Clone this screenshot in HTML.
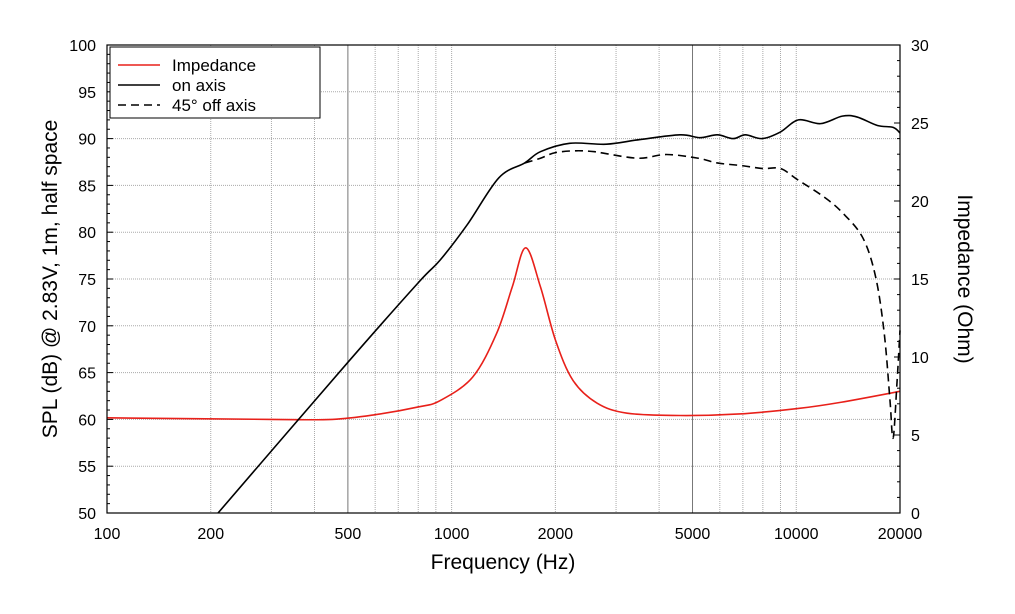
<!DOCTYPE html>
<html><head><meta charset="utf-8"><style>
body{margin:0;background:#fff}
svg text{font-family:"Liberation Sans",sans-serif;fill:#000}
</style></head><body>
<svg id="c" width="1015" height="609" viewBox="0 0 1015 609" xmlns="http://www.w3.org/2000/svg">
<g id="grid"></g>
<g id="series"></g>
<rect x="107" y="45" width="793" height="468" fill="none" stroke="#000" stroke-width="1.2"/>
<g id="ticks"></g>
<text x="503" y="569" font-size="21" text-anchor="middle">Frequency (Hz)</text>
<text transform="translate(57,279) rotate(-90)" font-size="21" text-anchor="middle">SPL (dB) @ 2.83V, 1m, half space</text>
<text transform="translate(958,279) rotate(90)" font-size="21" text-anchor="middle">Impedance (Ohm)</text>
<g>
<rect x="110" y="47" width="210" height="71" fill="#fff" stroke="#000" stroke-width="1"/>
<g><line x1="118" y1="65" x2="160" y2="65" stroke="#e8201a" stroke-width="1.6"/><text x="172" y="71" font-size="17">Impedance</text></g>
<g><line x1="118" y1="85" x2="160" y2="85" stroke="#000" stroke-width="1.6"/><text x="172" y="91" font-size="17">on axis</text></g>
<g><line x1="118" y1="105" x2="160" y2="105" stroke="#000" stroke-width="1.6" stroke-dasharray="8,5"/><text x="172" y="111" font-size="17">45° off axis</text></g>
</g>
</svg>
<script>
const onFreq=[210,500,800,925,1110,1370,1630,1810,2200,2815,3520,4600,5260,5900,6560,7120,7960,8990,10140,11760,13600,15030,17200,19100,20000];
const onDb=[50,66.1,74.6,77.0,80.8,85.8,87.4,88.6,89.5,89.4,89.9,90.4,90.1,90.4,90.0,90.4,90.0,90.7,92.0,91.6,92.4,92.3,91.4,91.2,90.6];
const offFreq=[1630,1810,2000,2300,2600,2800,3500,4200,5200,5900,7000,8000,9000,10100,12000,13600,15600,17000,18000,18700,19100,19600,20000];
const offDb=[87.4,87.9,88.5,88.7,88.6,88.4,87.9,88.3,87.9,87.4,87.1,86.8,86.8,85.6,83.8,82.1,79.4,75.2,69.2,62.1,58.0,63.9,69.5];
const impFreq=[100,300,450,600,800,925,1150,1350,1500,1640,1810,2000,2250,2640,3230,4600,6840,10140,13500,20000];
const impOhm=[6.1,6.0,6.0,6.3,6.8,7.2,8.7,11.5,14.5,17.0,14.5,11.1,8.5,7.05,6.4,6.25,6.35,6.7,7.1,7.8];
const xTicks=[100,200,500,1000,2000,5000,10000,20000];
const yTicks=[50,55,60,65,70,75,80,85,90,95,100];
const rTicks=[0,5,10,15,20,25,30];
const X0=107,X1=900,Y0=513,Y1=45;
const xs=f=>X0+(Math.log10(f)-2)/Math.log10(200)*(X1-X0);
const ys=d=>Y0-(d-50)/50*(Y0-Y1);
const yr=o=>Y0-o/30*(Y0-Y1);
const NS='http://www.w3.org/2000/svg';
function mk(t,p,a){const e=document.createElementNS(NS,t);for(const k in a)e.setAttribute(k,a[k]);p.appendChild(e);return e;}
const grid=document.getElementById('grid'),ticks=document.getElementById('ticks'),ser=document.getElementById('series');
for(let d=1;d<=4;d++)for(let m=1;m<=9;m++){const f=m*Math.pow(10,d);if(f<=100||f>=20000)continue;
 const dark=(m===5);
 const l=mk('line',grid,{x1:xs(f),x2:xs(f),y1:Y1,y2:Y0,stroke:dark?'#777':'#aaa','stroke-width':1,'stroke-dasharray':dark?'none':'1,1'});
 }
yTicks.forEach(v=>{if(v>50&&v<100){const l=mk('line',grid,{x1:X0,x2:X1,y1:ys(v),y2:ys(v),stroke:'#aaa','stroke-width':1,'stroke-dasharray':'1,1'});
 }
 const t=mk('text',ticks,{x:96,y:ys(v)+6,'font-size':16,'text-anchor':'end'});t.textContent=v;
 });
for(let v=50;v<=100;v++){mk('line',ticks,{x1:X0,x2:X0+(v%5?3:6),y1:ys(v),y2:ys(v),stroke:'#000'});}
for(let v=0;v<=30;v++){mk('line',ticks,{x1:X1,x2:X1-(v%5?3:6),y1:yr(v),y2:yr(v),stroke:'#000'});}
rTicks.forEach(v=>{const t=mk('text',ticks,{x:911,y:yr(v)+6,'font-size':16});t.textContent=v;
 });
xTicks.forEach(v=>{const t=mk('text',ticks,{x:xs(v),y:539,'font-size':16,'text-anchor':'middle'});t.textContent=v;
 });
function path(fs,vs,yf){const p=fs.map((f,i)=>[xs(f),yf(vs[i])]);let d='M'+p[0][0]+','+p[0][1];
 for(let i=0;i<p.length-1;i++){const a=p[i>0?i-1:i],b=p[i],c=p[i+1],e=p[i+2<p.length?i+2:i+1];
  d+=` C${b[0]+(c[0]-a[0])/6},${b[1]+(c[1]-a[1])/6} ${c[0]-(e[0]-b[0])/6},${c[1]-(e[1]-b[1])/6} ${c[0]},${c[1]}`;}return d;}
const s1=mk('path',ser,{d:path(impFreq,impOhm,yr),fill:'none',stroke:'#e8201a','stroke-width':1.6});

const s3=mk('path',ser,{d:path(offFreq,offDb,ys),fill:'none',stroke:'#000','stroke-width':1.6,'stroke-dasharray':'8,5'});

const s2=mk('path',ser,{d:path(onFreq,onDb,ys),fill:'none',stroke:'#000','stroke-width':1.6});

</script>
</body></html>
